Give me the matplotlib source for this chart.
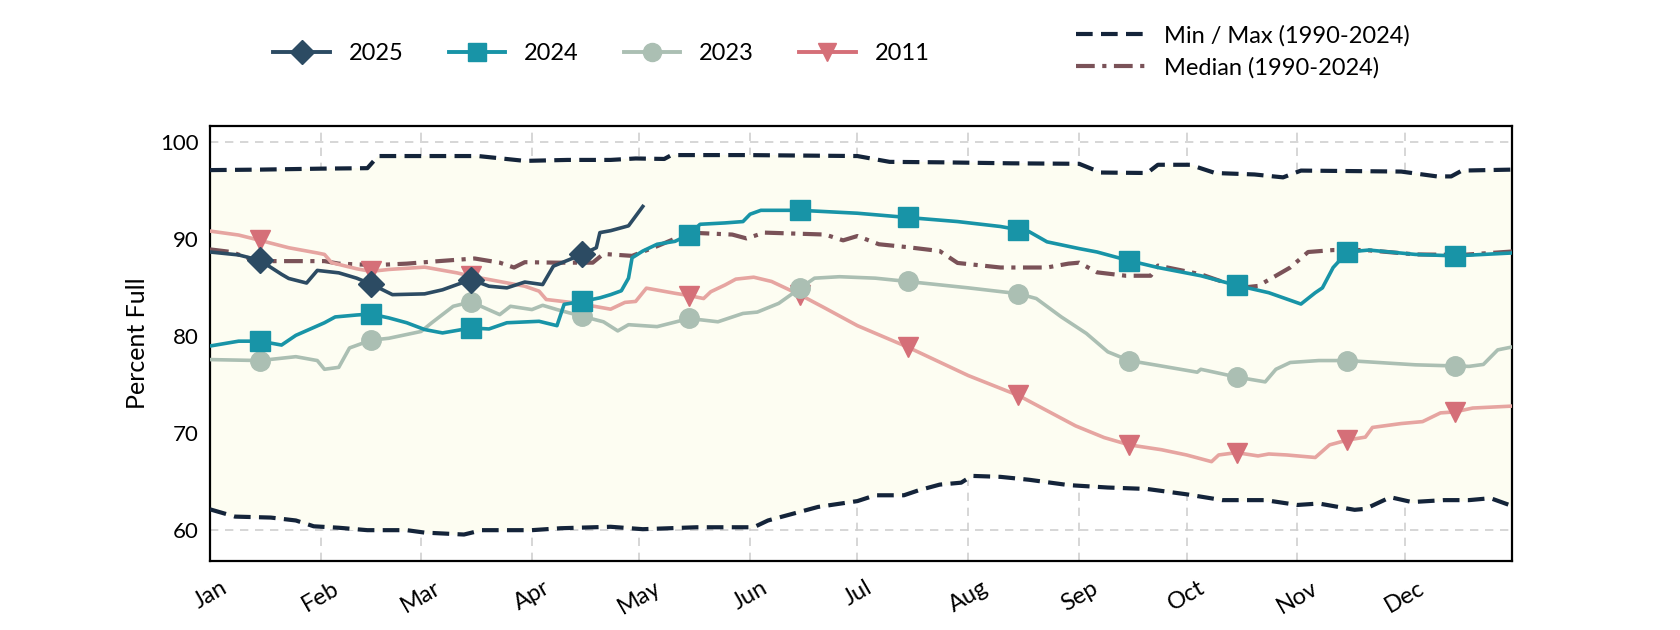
import numpy as np
import matplotlib
matplotlib.use("Agg")
import matplotlib.pyplot as plt
import matplotlib.dates as mdates
from matplotlib.lines import Line2D

plt.rcParams['font.family'] = ['Lato', 'DejaVu Sans']

# day offsets from Jan 1 (non-leap year) and percent full values
max_days = [0, 14, 31, 44, 47, 60, 75, 88, 100, 112, 119, 127, 129, 150, 181, 190, 205, 224,
            243, 249, 262, 265, 274, 281, 292, 300, 305, 333, 337, 343, 347, 350, 364]
max_vals = [97.15, 97.2, 97.3, 97.35, 98.6, 98.6, 98.6, 98.1, 98.2, 98.2, 98.35, 98.3, 98.7, 98.7,
            98.6, 98.0, 97.95, 97.85, 97.8, 96.9, 96.85, 97.7, 97.7, 96.85, 96.7, 96.4, 97.1,
            97.0, 96.8, 96.5, 96.5, 97.1, 97.2]

min_days = [0, 7, 17, 24, 29, 36, 44, 55, 60, 71, 76, 90, 98, 112, 121, 136, 152, 156, 162,
            170, 181, 186, 194, 198, 204, 210, 213, 221, 229, 240, 251, 262, 273, 283, 295,
            304, 310, 320, 323, 330, 336, 345, 352, 358, 364]
min_vals = [62.15, 61.4, 61.3, 61.0, 60.4, 60.25, 60.0, 60.0, 59.75, 59.55, 60.0, 60.0, 60.2,
            60.35, 60.1, 60.3, 60.3, 61.0, 61.6, 62.4, 63.0, 63.6, 63.6, 64.1, 64.7, 64.9,
            65.6, 65.5, 65.2, 64.65, 64.4, 64.25, 63.7, 63.1, 63.1, 62.6, 62.75, 62.1, 62.2,
            63.4, 62.9, 63.1, 63.1, 63.3, 62.5]

med_days = [0, 6, 13, 22, 32, 36, 46, 55, 64, 74, 81, 85, 88, 97, 107, 110, 118, 125, 134,
            146, 150, 155, 172, 177, 181, 187, 195, 204, 209, 221, 234, 240, 243, 248, 256,
            263, 265, 277, 288, 293, 298, 302, 307, 314, 323, 337, 350, 364]
med_vals = [88.97, 88.7, 87.76, 87.76, 87.76, 87.5, 87.35, 87.5, 87.76, 88.03, 87.6, 87.1,
            87.65, 87.6, 87.6, 88.5, 88.3, 89.3, 90.7, 90.5, 90.1, 90.7, 90.5, 89.9, 90.35,
            89.5, 89.2, 88.8, 87.57, 87.1, 87.1, 87.5, 87.6, 86.6, 86.25, 86.25, 87.3, 86.4,
            85.0, 85.2, 86.25, 87.1, 88.7, 88.9, 88.9, 88.45, 88.4, 88.75]

y2025_days = [0, 8, 14, 20, 22, 27, 30, 36, 41, 45, 51, 60, 65, 73, 78, 83, 88, 93, 96, 104,
              108, 109, 112, 117, 119, 121]
y2025_vals = [88.7, 88.4, 87.83, 86.4, 85.97, 85.5, 86.8, 86.55, 86.0, 85.4, 84.3, 84.38, 84.8,
              85.86, 85.17, 85.0, 85.6, 85.34, 87.24, 88.45, 89.14, 90.7, 90.9, 91.4, 92.4, 93.4]

y2024_days = [0, 8, 14, 20, 24, 32, 35, 41, 45, 50, 55, 60, 65, 73, 78, 83, 92, 97, 99, 104,
              109, 112, 115, 117, 118, 121, 125, 130, 134, 137, 144, 149, 151, 154, 165, 181,
              195, 209, 221, 226, 229, 234, 243, 248, 254, 257, 265, 277, 287, 296, 305, 309,
              311, 314, 318, 324, 337, 348, 364]
y2024_vals = [79.0, 79.5, 79.5, 79.1, 80.1, 81.4, 82.0, 82.2, 82.3, 81.9, 81.4, 80.7, 80.35,
              80.86, 80.76, 81.4, 81.55, 81.1, 83.3, 83.6, 83.97, 84.3, 84.7, 86.0, 88.1, 88.8,
              89.5, 89.8, 90.5, 91.56, 91.7, 91.84, 92.6, 93.0, 93.0, 92.7, 92.26, 91.84, 91.33,
              91.0, 90.8, 89.75, 89.05, 88.7, 88.1, 87.8, 87.1, 86.25, 85.26, 84.5, 83.33, 84.5,
              85.0, 87.1, 88.7, 88.9, 88.45, 88.3, 88.6]

y2023_days = [0, 14, 24, 30, 32, 36, 39, 45, 50, 59, 62, 68, 73, 81, 84, 90, 93, 97, 104, 110,
              114, 117, 125, 134, 142, 149, 153, 159, 165, 169, 176, 186, 195, 212, 226, 231,
              238, 245, 251, 257, 265, 276, 277, 287, 295, 298, 302, 310, 318, 337, 352, 356,
              360, 364]
y2023_vals = [77.6, 77.5, 77.9, 77.5, 76.6, 76.8, 78.8, 79.6, 79.8, 80.5, 81.4, 83.1, 83.55,
              82.24, 83.1, 82.76, 83.2, 82.76, 82.07, 81.5, 80.56, 81.2, 81.0, 81.84, 81.5,
              82.36, 82.5, 83.4, 84.97, 86.0, 86.15, 86.0, 85.66, 85.0, 84.4, 83.9, 82.0, 80.3,
              78.4, 77.5, 77.0, 76.3, 76.6, 75.8, 75.3, 76.6, 77.3, 77.5, 77.5, 77.06, 76.9,
              77.1, 78.6, 78.9]

y2011_days = [0, 8, 14, 22, 30, 32, 34, 41, 45, 50, 60, 69, 73, 78, 88, 92, 94, 102, 112, 116,
              119, 122, 130, 134, 138, 140, 144, 147, 152, 157, 165, 172, 181, 195, 212, 226,
              242, 250, 257, 266, 273, 280, 282, 287, 293, 296, 301, 309, 313, 318, 323, 325,
              333, 339, 344, 348, 353, 364]
y2011_vals = [90.86, 90.45, 89.9, 89.14, 88.6, 88.45, 87.6, 86.97, 86.7, 86.9, 87.14, 86.55,
              86.2, 85.86, 85.17, 84.66, 83.8, 83.45, 82.8, 83.5, 83.6, 84.97, 84.44, 84.2,
              83.9, 84.6, 85.3, 85.9, 86.1, 85.66, 84.27, 82.9, 81.1, 78.9, 75.95, 73.9, 70.76,
              69.55, 68.8, 68.3, 67.76, 67.07, 67.76, 68.0, 67.66, 67.86, 67.76, 67.5, 68.8,
              69.3, 69.6, 70.6, 71.0, 71.2, 72.1, 72.2, 72.6, 72.8]

month_labels = ['Jan', 'Feb', 'Mar', 'Apr', 'May', 'Jun', 'Jul', 'Aug', 'Sep', 'Oct', 'Nov', 'Dec']

base = np.datetime64('2023-01-01')


def to_dates(days):
    return base + np.array(days).astype('timedelta64[D]')


mid_month = np.array([np.datetime64(f'2023-{m:02d}-15') for m in range(1, 13)])
mid_days = (mid_month - base).astype(int)

fig, ax = plt.subplots(figsize=(16.8, 6.3), dpi=100)
fig.subplots_adjust(left=0.125, right=0.9, top=0.8, bottom=0.11)

# band between historical min and max
all_days = np.arange(0, 365)
band_hi = np.interp(all_days, max_days, max_vals)
band_lo = np.interp(all_days, min_days, min_vals)
ax.fill_between(to_dates(all_days), band_lo, band_hi, color='#fdfdf2', zorder=1)

dash = (0, (4, 2))
dashdot = (0, (4.5, 1.8, 1, 1.8))
ax.plot(to_dates(max_days), max_vals, color='#14243a', lw=3, ls=dash, zorder=3)
ax.plot(to_dates(min_days), min_vals, color='#14243a', lw=3, ls=dash, zorder=3)
ax.plot(to_dates(med_days), med_vals, color='#7a5258', lw=3, ls=dashdot, zorder=3)

series = [
    ('2011', y2011_days, y2011_vals, '#e6a5a1', '#d56f78', 'v'),
    ('2023', y2023_days, y2023_vals, '#abbfb3', '#abbfb3', 'o'),
    ('2024', y2024_days, y2024_vals, '#1894a7', '#1894a7', 's'),
    ('2025', y2025_days, y2025_vals, '#2c4b63', '#2c4b63', 'D'),
]
for name, d, v, lc, mc, mk in series:
    ax.plot(to_dates(d), v, color=lc, lw=2.6, zorder=4)
    sel = mid_days <= d[-1]
    ax.plot(mid_month[sel], np.interp(mid_days[sel], d, v), ls='none', marker=mk,
            ms=14 if mk != 'D' else 13, color=mc, zorder=5)

ax.set_xlim(base, base + np.timedelta64(364, 'D'))
ax.set_ylim(56.85, 101.7)
ax.set_yticks([60, 70, 80, 90, 100])
ax.xaxis.set_major_locator(mdates.MonthLocator())
ax.set_xticks(ax.get_xticks())
ax.set_xticklabels(month_labels, rotation=30, ha='center')
ax.tick_params(axis='both', length=0)
ax.tick_params(axis='x', pad=12, labelsize=17)
ax.tick_params(axis='y', pad=8, labelsize=16)
ax.set_ylabel('Percent Full', fontsize=18, labelpad=8)
ax.grid(True, color='#cfcfcf', ls=(0, (5, 4)), lw=1.2)
ax.set_axisbelow(True)
for s in ax.spines.values():
    s.set_linewidth(1.6)
    s.set_color('black')

year_handles = [Line2D([], [], color=mc, lw=2.8, marker=mk, ms=13 if mk != 'D' else 12)
                for name, d, v, lc, mc, mk in series[::-1]]
year_labels = [s[0] for s in series[::-1]]
leg1 = fig.legend(year_handles, year_labels, loc='center', bbox_to_anchor=(0.358, 0.915),
                  ncol=4, frameon=False, fontsize=17, handlelength=2.4, columnspacing=1.9,
                  handletextpad=0.8)
ref_handles = [Line2D([], [], color='#14243a', lw=3, ls=dash),
               Line2D([], [], color='#7a5258', lw=3, ls=dashdot)]
leg2 = fig.legend(ref_handles, ['Min / Max (1990-2024)', 'Median (1990-2024)'], loc='center left',
                  bbox_to_anchor=(0.628, 0.918), frameon=False, fontsize=17, handlelength=2.9,
                  handletextpad=0.8, labelspacing=0.45)

fig.savefig('out.png', dpi=100)
